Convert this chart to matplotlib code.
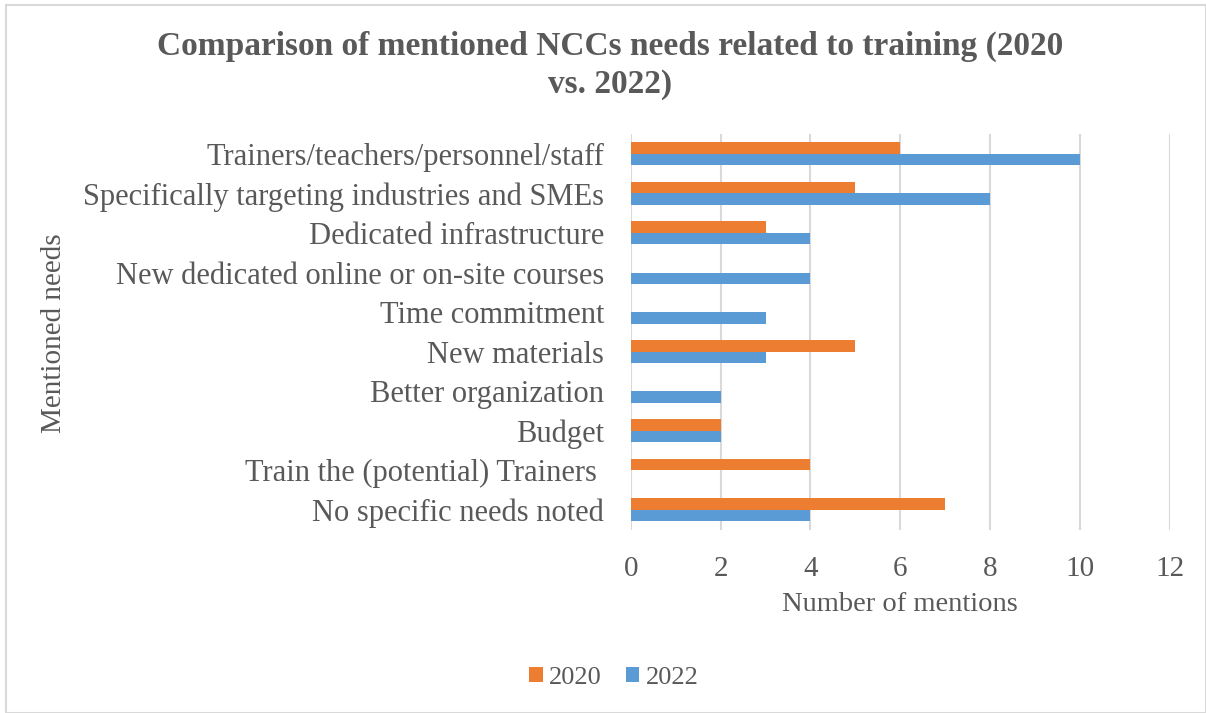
import matplotlib
matplotlib.use("Agg")
import matplotlib.pyplot as plt
import numpy as np
from matplotlib.patches import Rectangle

categories = [
    "Trainers/teachers/personnel/staff",
    "Specifically targeting industries and SMEs",
    "Dedicated infrastructure",
    "New dedicated online or on-site courses",
    "Time commitment",
    "New materials",
    "Better organization",
    "Budget",
    "Train the (potential) Trainers ",
    "No specific needs noted",
]
values_2020 = [6, 5, 3, 0, 0, 5, 0, 2, 4, 7]
values_2022 = [10, 8, 4, 4, 3, 3, 2, 2, 0, 4]
xticks = [0, 2, 4, 6, 8, 10, 12]

plt.rcParams['font.family'] = ['Liberation Serif', 'DejaVu Serif']
txt = '#595959'

fig = plt.figure(figsize=(12.06, 7.13), dpi=100)
ax = fig.add_axes([0.523, 0.257, 0.447, 0.555])

y = np.arange(len(categories))
h = 0.29
ax.barh(y - h/2, values_2020, height=h, color='#ED7D31', label='2020', zorder=3)
ax.barh(y + h/2, values_2022, height=h, color='#5B9BD5', label='2022', zorder=3)

ax.set_ylim(len(categories) - 0.5, -0.5)
ax.set_xlim(0, 12)
ax.set_xticks(xticks)
ax.set_yticks(y)
ax.set_yticklabels(categories)
ax.tick_params(axis='both', length=0, colors=txt)
ax.tick_params(axis='x', pad=19, labelsize=21)
ax.tick_params(axis='y', pad=19, labelsize=22)
for s in ax.spines.values():
    s.set_visible(False)
ax.grid(axis='x', color='#D9D9D9', linewidth=1.5, zorder=0)
ax.set_axisbelow(True)

ax.set_xlabel('Number of mentions', fontsize=20.5, color=txt, labelpad=7)
fig.text(0.045, 0.533, 'Mentioned needs', rotation=90, fontsize=21, color=txt,
         ha='center', va='center')

fig.text(0.506, 0.935, 'Comparison of mentioned NCCs needs related to training (2020',
         ha='center', va='center', fontsize=24, fontweight='bold', color=txt)
fig.text(0.506, 0.882, 'vs. 2022)',
         ha='center', va='center', fontsize=24, fontweight='bold', color=txt)

leg = fig.legend(loc='center', bbox_to_anchor=(0.509, 0.049), ncol=2, frameon=False,
                 fontsize=19, handlelength=0.5, handleheight=0.5, handletextpad=0.25,
                 columnspacing=0.9, labelcolor=txt)

fig.patches.append(Rectangle((0.005, 0.0), 0.995, 0.993, transform=fig.transFigure,
                             fill=False, edgecolor='#D9D9D9', linewidth=1.5))

fig.savefig('out.png', dpi=100, facecolor='white')
